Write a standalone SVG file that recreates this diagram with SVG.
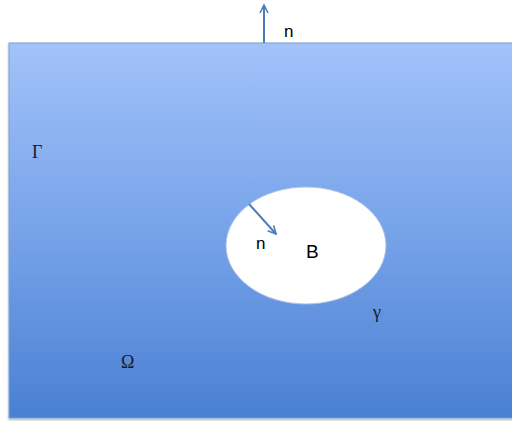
<svg xmlns="http://www.w3.org/2000/svg" width="512" height="421" viewBox="0 0 512 421">
<defs>
<linearGradient id="bg" x1="0" y1="0" x2="0" y2="1">
<stop offset="0" stop-color="#a2c2fa"/>
<stop offset="0.5" stop-color="#77a3e9"/>
<stop offset="1" stop-color="#4a80d3"/>
</linearGradient>
<marker id="ah" viewBox="0 0 10 10" refX="9" refY="5" markerWidth="5" markerHeight="5" orient="auto" markerUnits="strokeWidth">
<path d="M1,1 L9,5 L1,9" fill="none" stroke="#4a7ebb" stroke-width="1.6"/>
</marker>
<filter id="sh" x="-5%" y="-5%" width="110%" height="110%">
<feDropShadow dx="0" dy="1.5" stdDeviation="1" flood-color="#000" flood-opacity="0.3"/>
</filter>
</defs>
<style>
.lbl{font-family:"Liberation Sans",Arial,sans-serif;font-size:17px;fill:#000}
.sym{font-family:"Liberation Serif","Times New Roman",serif;font-size:18px;fill:#1a1a2e}
.arr{stroke:#4a7ebb;stroke-width:2;fill:none;marker-end:url(#ah)}
</style>
<g id="domain">
<rect x="9" y="43" width="510" height="375" fill="url(#bg)" stroke="#7f9fcf" stroke-width="1" filter="url(#sh)"/>
</g>
<g id="hole">
<ellipse cx="306" cy="245.5" rx="80" ry="58.5" fill="#ffffff" stroke="#a9c3e8" stroke-width="1"/>
</g>
<g id="connectors">
<line class="arr" x1="264" y1="43" x2="264" y2="5"/>
<line class="arr" x1="249" y1="204" x2="276" y2="234"/>
</g>
<g id="labels">
<text class="lbl" x="284" y="37">n</text>
<text class="lbl" x="256" y="249">n</text>
<text class="lbl" x="306" y="258" style="font-size:19px">B</text>
<text class="sym" x="32" y="158">Γ</text>
<text class="sym" x="373" y="318">γ</text>
<text class="sym" x="121" y="368">Ω</text>
</g>
</svg>
